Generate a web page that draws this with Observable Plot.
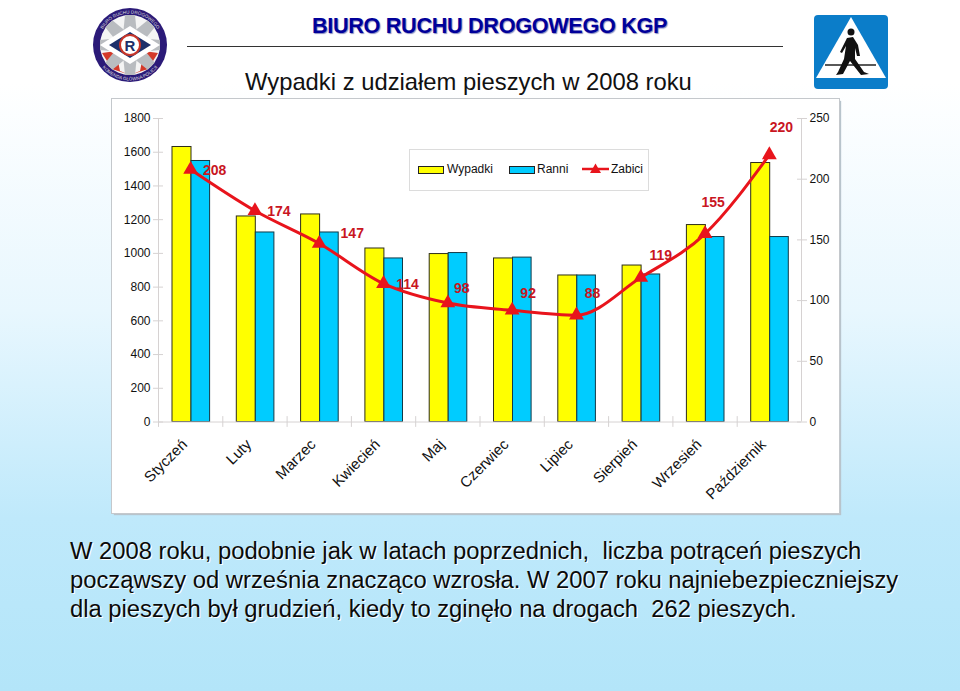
<!DOCTYPE html>
<html lang="pl"><head><meta charset="utf-8">
<script src="https://cdn.jsdelivr.net/npm/d3@7"></script>
<script src="https://cdn.jsdelivr.net/npm/@observablehq/plot@0.6"></script>
<style>
html,body{margin:0;padding:0}
body{width:960px;height:691px;position:relative;overflow:hidden;font-family:"Liberation Sans",Arial,sans-serif;
background:linear-gradient(#fff 0,#fff 12%,#e8f7fe 45%,#bfe9fb 75%,#b3e5f9 100%)}
.abs{position:absolute}
#head{left:312px;top:13px;font-size:21.7px;font-weight:bold;color:#00009a;white-space:pre;letter-spacing:-.35px;text-shadow:1px 1px 1px #8a8ac0}
#rule{left:187px;top:46px;width:596px;height:1px;background:#333}
#title{left:245px;top:68px;font-size:23.8px;color:#111;white-space:pre}
#chart{left:112px;top:99px;width:727px;height:414px;box-shadow:0 0 0 1px #c4c8cc,2px 2px 1px #b8c4cc}
#chart svg{display:block;background:#fff}
#legend{left:409px;top:149px;width:238px;height:40px;border:1px solid #dcdcdc;background:#fff;font-size:12px;color:#111}
#legend span{position:absolute;top:12px}
#legend i{position:absolute;top:16px;width:24px;height:6px;border:1px solid #222}
#legend svg{position:absolute;left:172px;top:12px}
#note{left:70px;top:536px;font-size:23.78px;line-height:29px;color:#0a0a0a;white-space:pre;text-shadow:1px 1px 0 #fff}
</style></head><body>
<div class="abs" id="head">BIURO RUCHU DROGOWEGO KGP</div>
<div class="abs" id="rule"></div>
<div class="abs" id="title">Wypadki z udziałem pieszych w 2008 roku</div>
<svg class="abs" style="left:91px;top:6px" width="78" height="78" viewBox="-39 -39 78 78">
<defs><path id="ring" d="M-31.5 0A31.5 31.5 0 0 1 31.5 0"/><path id="ringb" d="M-35.5 0A35.5 35.5 0 0 0 35.5 0"/></defs>
<circle r="37" fill="#2b1a78"/><circle r="30" fill="#f4f4f4"/>
<path d="M-28 8L-14 6L-10 26L0 30L10 26L14 6L28 8L18 24L0 30L-18 24Z" fill="#d4392a"/>
<g fill="#b9bcc0"><path id="sp" d="M-5 -30H5L8 0H-8Z"/><use href="#sp" transform="rotate(45)"/><use href="#sp" transform="rotate(90)"/><use href="#sp" transform="rotate(135)"/><use href="#sp" transform="rotate(180)"/><use href="#sp" transform="rotate(225)"/><use href="#sp" transform="rotate(270)"/><use href="#sp" transform="rotate(315)"/></g>
<path d="M-30 0L0 -19L30 0L0 19Z" fill="#fff"/><path d="M-21 0L0 -13L21 0L0 13Z" fill="#1d2f6a"/>
<circle r="10" fill="#fff" stroke="#c8362a" stroke-width="2"/><text y="5.5" text-anchor="middle" font-size="15" font-weight="bold" fill="#1d2f6a" font-family="Liberation Sans">R</text>
<text font-size="4.6" fill="#ddd" font-family="Liberation Sans"><textPath href="#ring" startOffset="50%" text-anchor="middle">BIURO RUCHU DROGOWEGO</textPath></text>
<text font-size="4.6" fill="#ddd" font-family="Liberation Sans"><textPath href="#ringb" startOffset="50%" text-anchor="middle">KOMENDA GŁÓWNA POLICJI</textPath></text>
</svg>
<svg class="abs" style="left:814px;top:15px" width="74" height="74" viewBox="0 0 74 74">
<rect width="74" height="74" rx="4" fill="#0b7dc9"/>
<path d="M37 2L72 63H2Z" fill="#fff"/>
<path d="M11 50H62" stroke="#222" stroke-width="1.5"/>
<circle cx="37" cy="17" r="3.5" fill="#111"/>
<path d="M33 23L39 22L44 30L46 41L43 41L41 33L41 44L50 57L55 59L47 60L36 46L29 59L22 60L24 57L30 44L32 31L28 38L26 37Z" fill="#111"/>
</svg>
<div class="abs" id="chart"></div>
<div class="abs" id="legend">
<i style="left:8px;background:#ffff00"></i><span style="left:37px">Wypadki</span>
<i style="left:99px;background:#00ccff"></i><span style="left:127px">Ranni</span>
<svg width="30" height="14"><path d="M0 7H27" stroke="#e8141c" stroke-width="2.5"/><path d="M13.5 1.5L19 11H8Z" fill="#e8141c"/></svg>
<span style="left:201px">Zabici</span>
</div>
<div class="abs" id="note">W 2008 roku, podobnie jak w latach poprzednich,  liczba potrąceń pieszych
począwszy od września znacząco wzrosła. W 2007 roku najniebezpieczniejszy
dla pieszych był grudzień, kiedy to zginęło na drogach  262 pieszych.</div>
<script>
const months = ["Styczeń","Luty","Marzec","Kwiecień","Maj","Czerwiec","Lipiec","Sierpień","Wrzesień","Październik"];
const wypadki = [1631,1219,1231,1029,996,970,869,928,1168,1536];
const ranni = [1548,1124,1124,970,1002,975,869,875,1097,1097];
const zabici = [208,174,147,114,98,92,88,119,155,220];
const leftTicks = [0,200,400,600,800,1000,1200,1400,1600,1800];
const rightTicks = [0,50,100,150,200,250];
// label placement relative to each point, in pixels
const labelDx = [24,24,33,24,14,16,16,20,8,12];
const labelDy = [1,1,-10,1,-15,-17,-22,-22,-31,-27];

const ratio = 1800/250; // secondary axis: Zabici share the frame with the left scale
const W = 727, H = 414, half = 32.15, tc = "#d6d2d2";
const rows = months.map((m,i)=>({m,w:wypadki[i],r:ranni[i],z:zabici[i]*ratio,zv:zabici[i]}));
const plot = Plot.plot({
  width:W,height:H,marginLeft:46,marginRight:38,marginTop:19,marginBottom:91.5,
  style:{fontFamily:"Liberation Sans",fontSize:"12px",color:"#111",background:"#fff"},
  x:{domain:months,padding:0,label:null,round:false},
  y:{domain:[0,1800],label:null,round:false},
  marks:[
    Plot.barY(rows,{x:"m",y:"w",fill:"#ffff00",stroke:"#2e2e1a",strokeWidth:1,insetLeft:14,insetRight:31.3}),
    Plot.barY(rows,{x:"m",y:"r",fill:"#00ccff",stroke:"#123a48",strokeWidth:1,insetLeft:33,insetRight:12.7}),
    Plot.ruleY([0],{stroke:tc}),
    Plot.ruleX([months[0]],{x:d=>d,y1:0,y2:1800,dx:-half,stroke:tc}),
    Plot.ruleX([months[9]],{x:d=>d,y1:0,y2:1800,dx:half,stroke:tc}),
    Plot.ruleX(months,{x:d=>d,y1:-32,y2:32,dx:-half,stroke:tc}),
    Plot.axisY(leftTicks,{anchor:"left",tickSize:10,dx:5,stroke:tc,tickFormat:()=>"",label:null}),
    Plot.axisY(leftTicks,{anchor:"left",tickSize:0,tickPadding:8,tickFormat:d=>String(d),label:null}),
    Plot.axisY(rightTicks.map(v=>v*ratio),{anchor:"right",tickSize:10,dx:-5,stroke:tc,tickFormat:()=>"",label:null}),
    Plot.axisY(rightTicks.map(v=>v*ratio),{anchor:"right",tickSize:0,tickPadding:8,tickFormat:d=>String(d/ratio),label:null}),
    Plot.axisX({anchor:"bottom",tickSize:0,tickPadding:20,dx:-6,tickRotate:-45,fontSize:15,label:null}),
    Plot.line(rows,{x:"m",y:"z",stroke:"#e8141c",strokeWidth:3,curve:"monotone-x"}),
    Plot.dot(rows,{x:"m",y:"z",symbol:"triangle",fill:"#e8141c",r:5.5}),
    ...rows.map((d,i)=>Plot.text([d],{x:"m",y:"z",text:"zv",dx:labelDx[i],dy:labelDy[i],fill:"#c9161f",fontSize:14,fontWeight:"bold"}))
  ]
});
document.getElementById("chart").appendChild(plot);
</script>
</body></html>
